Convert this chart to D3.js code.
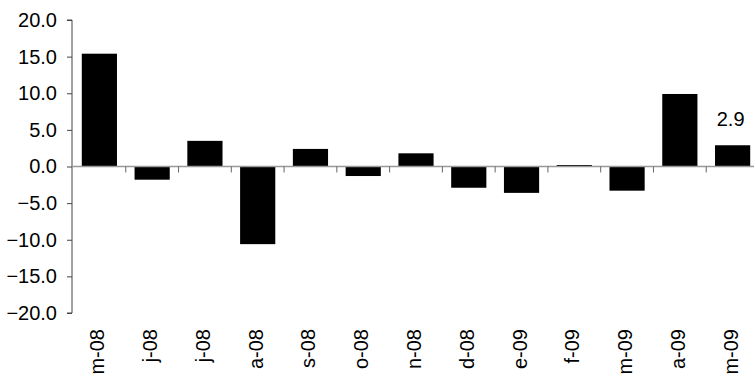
<!DOCTYPE html>
<html>
<head>
<meta charset="utf-8">
<script src="https://cdn.jsdelivr.net/npm/d3@7"></script>
<style>
  html, body { margin: 0; padding: 0; background: #fff; }
  svg { display: block; font-family: "Liberation Sans", Arial, sans-serif; }
</style>
</head>
<body>
<script>
const months = ["m-08", "j-08", "j-08", "a-08", "s-08", "o-08", "n-08", "d-08", "e-09", "f-09", "m-09", "a-09", "m-09"];
const values = [15.4, -1.8, 3.5, -10.6, 2.4, -1.3, 1.8, -2.9, -3.6, 0.2, -3.3, 9.9, 2.9];
const yTicks = [20, 15, 10, 5, 0, -5, -10, -15, -20];

const width = 754, height = 374;
const plotLeft = 72, plotRight = 759, plotTop = 20, plotBottom = 313;
const fontSize = 20;

const svg = d3.select("body").append("svg")
    .attr("width", width)
    .attr("height", height);

const y = d3.scaleLinear().domain([-20, 20]).range([plotBottom, plotTop]);
const x = d3.scaleBand()
    .domain(d3.range(months.length))
    .range([plotLeft + 1, plotRight])
    .paddingInner(1 / 3)
    .paddingOuter(1 / 6);

// bars
svg.append("g").selectAll("rect")
    .data(values)
    .join("rect")
    .attr("x", (d, i) => x(i))
    .attr("width", x.bandwidth())
    .attr("y", d => y(Math.max(0, d)))
    .attr("height", d => Math.abs(y(d) - y(0)))
    .attr("fill", "#000");

// y axis
const yAxis = svg.append("g")
    .attr("transform", `translate(${plotLeft},0)`)
    .call(d3.axisLeft(y).tickValues(yTicks).tickFormat(d3.format(".1f")).tickSize(5).tickPadding(10));
yAxis.select(".domain").attr("stroke", "#444").attr("d", `M-5,${y(20)}H0V${y(-20)}H-5`);
yAxis.selectAll(".tick line").attr("stroke", "#444");
yAxis.selectAll("text")
    .attr("font-size", fontSize)
    .attr("font-family", "Liberation Sans, Arial, sans-serif")
    .attr("fill", "#000");

// zero line with category tick marks
const step = x.step();
const zero = svg.append("g");
zero.append("line")
    .attr("x1", plotLeft).attr("x2", plotRight)
    .attr("y1", y(0)).attr("y2", y(0))
    .attr("stroke", "#999").attr("stroke-width", 1.5);
zero.selectAll("line.tk")
    .data(d3.range(1, months.length))
    .join("line")
    .attr("class", "tk")
    .attr("x1", i => x(i) - x.paddingInner() * step / 2)
    .attr("x2", i => x(i) - x.paddingInner() * step / 2)
    .attr("y1", y(0))
    .attr("y2", y(0) + 6)
    .attr("stroke", "#666");

// category labels
svg.append("g").selectAll("text")
    .data(months)
    .join("text")
    .attr("transform", (d, i) => `translate(${x(i) + x.bandwidth() / 2 - 2},329) rotate(-90)`)
    .attr("text-anchor", "end")
    .attr("dy", "0.35em")
    .attr("font-size", fontSize)
    .text(d => d);

// data label on last bar
const last = values.length - 1;
svg.append("text")
    .attr("x", x(last) + x.bandwidth() / 2 - 2)
    .attr("y", y(values[last]) - 19)
    .attr("text-anchor", "middle")
    .attr("font-size", fontSize)
    .text(d3.format(".1f")(values[last]));
</script>
</body>
</html>
